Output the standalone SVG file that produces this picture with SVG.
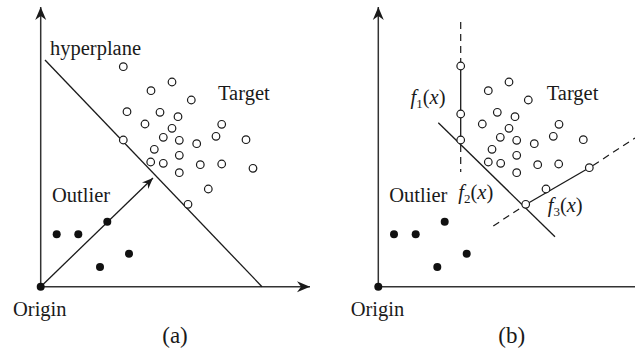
<svg xmlns="http://www.w3.org/2000/svg" width="635" height="352" viewBox="0 0 635 352">
<style>
.ln{stroke:#1a1a1a;stroke-width:1.3;fill:none}
.ax{stroke:#333;stroke-width:1.5;fill:none}
.ds{stroke:#1a1a1a;stroke-width:1.2;fill:none;stroke-dasharray:7,5}
.t circle{fill:#fff;stroke:#1a1a1a;stroke-width:1.2}
.o circle{fill:#111}
text{font-family:"Liberation Serif","Times New Roman",serif;font-size:20.5px;fill:#1a1a1a}
.cap{font-size:23px}
.it{font-style:italic}
</style>
<defs>
<marker id="ah" markerUnits="userSpaceOnUse" markerWidth="16" markerHeight="14" viewBox="-14 -7 16 14" refX="0" refY="0" orient="auto">
<path d="M0,0 L-13,-5.5 L-9,0 L-13,5.5 Z" fill="#1a1a1a"/>
</marker>
<marker id="ah2" markerUnits="userSpaceOnUse" markerWidth="14" markerHeight="12" viewBox="-12 -6 14 12" refX="0" refY="0" orient="auto">
<path d="M0,0 L-11,-4.5 L-7.5,0 L-11,4.5 Z" fill="#1a1a1a"/>
</marker>
</defs>

<!-- Panel (a) -->
<g id="panel-a">
<g id="a-connectors">
<line class="ax" x1="40.7" y1="286.7" x2="40.7" y2="7" marker-end="url(#ah)"/>
<line class="ax" x1="40.7" y1="286.7" x2="310" y2="286.7" marker-end="url(#ah)"/>
<line id="a-hyperplane" class="ln" x1="45" y1="60" x2="262" y2="286.7"/>
<line id="a-vector" class="ln" x1="40.7" y1="286.7" x2="153" y2="178" marker-end="url(#ah2)"/>
</g>
<g id="a-target" class="t">
<circle cx="123.3" cy="66.7" r="3.8"/>
<circle cx="172" cy="82" r="3.8"/>
<circle cx="151" cy="90.7" r="3.8"/>
<circle cx="191.3" cy="100" r="3.8"/>
<circle cx="127" cy="111.7" r="3.8"/>
<circle cx="160" cy="112.3" r="3.8"/>
<circle cx="178" cy="116.7" r="3.8"/>
<circle cx="145" cy="124" r="3.8"/>
<circle cx="221.7" cy="124.3" r="3.8"/>
<circle cx="172" cy="128.3" r="3.8"/>
<circle cx="163.3" cy="137.3" r="3.8"/>
<circle cx="216" cy="136.3" r="3.8"/>
<circle cx="123.3" cy="140" r="3.8"/>
<circle cx="179.3" cy="140.3" r="3.8"/>
<circle cx="246" cy="139.7" r="3.8"/>
<circle cx="196.7" cy="143.7" r="3.8"/>
<circle cx="154.3" cy="149.3" r="3.8"/>
<circle cx="179.3" cy="155.3" r="3.8"/>
<circle cx="150.7" cy="162" r="3.8"/>
<circle cx="163.3" cy="163.3" r="3.8"/>
<circle cx="200.3" cy="164.7" r="3.8"/>
<circle cx="221.7" cy="164" r="3.8"/>
<circle cx="253" cy="168.3" r="3.8"/>
<circle cx="179.3" cy="172.7" r="3.8"/>
<circle cx="208.3" cy="189" r="3.8"/>
<circle cx="188" cy="204.3" r="3.8"/>
</g>
<g id="a-outliers" class="o">
<circle cx="56.7" cy="234.3" r="4"/>
<circle cx="78.3" cy="234.3" r="4"/>
<circle cx="107.3" cy="221.7" r="4"/>
<circle cx="129" cy="253.7" r="4"/>
<circle cx="100" cy="267" r="4"/>
<circle cx="40.7" cy="286.7" r="4"/>
</g>
<g id="a-labels">
<text x="50" y="55">hyperplane</text>
<text x="218" y="100">Target</text>
<text x="52" y="202">Outlier</text>
<text x="13" y="315.5">Origin</text>
<text class="cap" x="175" y="343" text-anchor="middle">(a)</text>
</g>
</g>

<!-- Panel (b) -->
<g id="panel-b">
<g id="b-connectors">
<line class="ax" x1="378.3" y1="286.7" x2="378.3" y2="7" marker-end="url(#ah)"/>
<line class="ax" x1="378.3" y1="286.7" x2="648" y2="286.7" marker-end="url(#ah)"/>
<line id="b-hyperplane" class="ln" x1="438.3" y1="122.7" x2="555" y2="236.7"/>
<line class="ds" x1="460.7" y1="22" x2="460.7" y2="62"/>
<line id="f1-seg" class="ln" x1="460.7" y1="66" x2="460.7" y2="140"/>
<line class="ds" x1="460.7" y1="145" x2="460.7" y2="172"/>
<line class="ds" x1="493.3" y1="226" x2="525" y2="205"/>
<line id="f3-seg" class="ln" x1="525" y1="205" x2="589.3" y2="167.7"/>
<line class="ds" x1="593" y1="165.5" x2="635" y2="138"/>
</g>
<g id="b-target" class="t">
<circle cx="460.7" cy="66" r="3.8"/>
<circle cx="509" cy="82" r="3.8"/>
<circle cx="488.3" cy="90.7" r="3.8"/>
<circle cx="528.3" cy="100" r="3.8"/>
<circle cx="460.7" cy="114" r="3.8"/>
<circle cx="497.3" cy="112.3" r="3.8"/>
<circle cx="515" cy="116.7" r="3.8"/>
<circle cx="482.3" cy="124" r="3.8"/>
<circle cx="559" cy="124.3" r="3.8"/>
<circle cx="509" cy="128.3" r="3.8"/>
<circle cx="500.3" cy="137.3" r="3.8"/>
<circle cx="553.3" cy="136.3" r="3.8"/>
<circle cx="460.7" cy="140" r="3.8"/>
<circle cx="516.7" cy="140.3" r="3.8"/>
<circle cx="583.3" cy="139.7" r="3.8"/>
<circle cx="534.3" cy="143.7" r="3.8"/>
<circle cx="492" cy="149.3" r="3.8"/>
<circle cx="516.7" cy="155.3" r="3.8"/>
<circle cx="488.3" cy="162" r="3.8"/>
<circle cx="500.7" cy="163.3" r="3.8"/>
<circle cx="537.7" cy="164.7" r="3.8"/>
<circle cx="558.7" cy="164" r="3.8"/>
<circle cx="589.3" cy="167.7" r="3.8"/>
<circle cx="516.7" cy="172.7" r="3.8"/>
<circle cx="546" cy="189" r="3.8"/>
<circle cx="525.7" cy="204.3" r="3.8"/>
</g>
<g id="b-outliers" class="o">
<circle cx="394" cy="234.3" r="4"/>
<circle cx="415.7" cy="234.3" r="4"/>
<circle cx="444.7" cy="221.7" r="4"/>
<circle cx="466.7" cy="253.7" r="4"/>
<circle cx="437.3" cy="267" r="4"/>
<circle cx="378.3" cy="286.7" r="4"/>
</g>
<g id="b-labels">
<text x="546.7" y="100">Target</text>
<text x="389.3" y="202">Outlier</text>
<text x="410.5" y="104"><tspan class="it">f</tspan><tspan font-size="13" dy="4">1</tspan><tspan dy="-4">(</tspan><tspan class="it">x</tspan>)</text>
<text x="458.3" y="199"><tspan class="it">f</tspan><tspan font-size="13" dy="4">2</tspan><tspan dy="-4">(</tspan><tspan class="it">x</tspan>)</text>
<text x="547.7" y="212"><tspan class="it">f</tspan><tspan font-size="13" dy="4">3</tspan><tspan dy="-4">(</tspan><tspan class="it">x</tspan>)</text>
<text x="350.7" y="315.5">Origin</text>
<text class="cap" x="511.7" y="343" text-anchor="middle">(b)</text>
</g>
</g>
</svg>
